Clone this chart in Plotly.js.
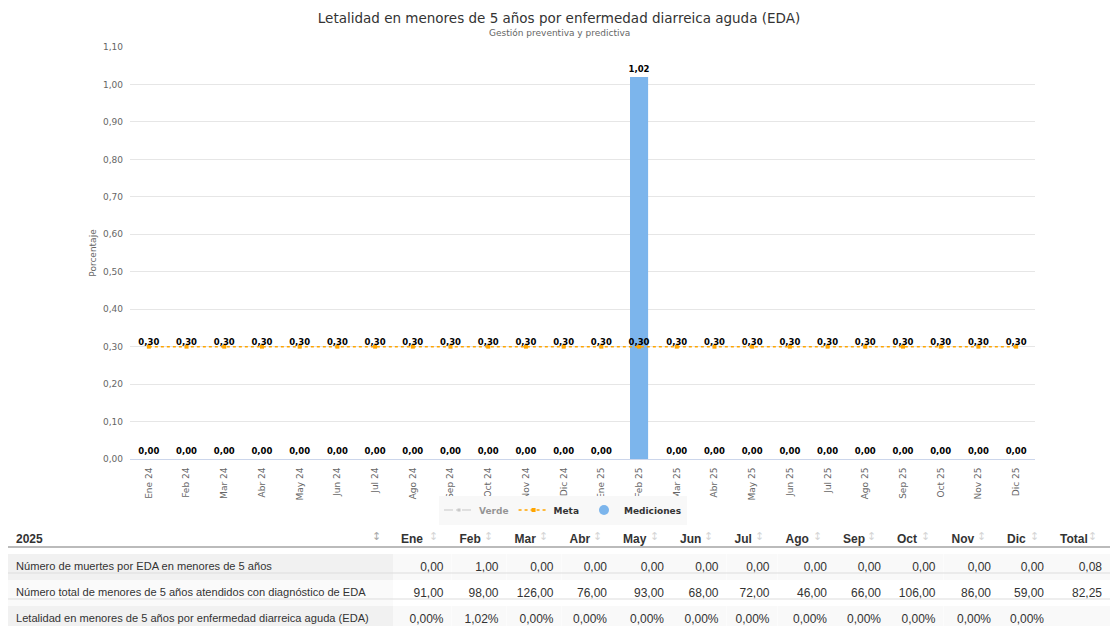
<!DOCTYPE html>
<html>
<head>
<meta charset="utf-8">
<script src="https://cdn.plot.ly/plotly-3.0.1.min.js"></script>
<style>
  html, body { margin: 0; padding: 0; background: #ffffff; }
  #chart { width: 1110px; height: 626px; }
</style>
</head>
<body>
<div id="chart"></div>
<script>
// ---------- DATA ----------
const categories = ['Ene 24','Feb 24','Mar 24','Abr 24','May 24','Jun 24','Jul 24','Ago 24','Sep 24','Oct 24','Nov 24','Dic 24',
                    'Ene 25','Feb 25','Mar 25','Abr 25','May 25','Jun 25','Jul 25','Ago 25','Sep 25','Oct 25','Nov 25','Dic 25'];
const mediciones = [0,0,0,0,0,0,0,0,0,0,0,0, 0,1.02,0,0,0,0,0,0,0,0,0,0];
const meta = [0.30,0.30,0.30,0.30,0.30,0.30,0.30,0.30,0.30,0.30,0.30,0.30,
              0.30,0.30,0.30,0.30,0.30,0.30,0.30,0.30,0.30,0.30,0.30,0.30];
const verde = [0.30,0.30,0.30,0.30,0.30,0.30,0.30,0.30,0.30,0.30,0.30,0.30,
               0.30,0.30,0.30,0.30,0.30,0.30,0.30,0.30,0.30,0.30,0.30,0.30];

const tableYear = '2025';
const tableMonths = ['Ene','Feb','Mar','Abr','May','Jun','Jul','Ago','Sep','Oct','Nov','Dic'];
const rowLabels = ['Número de muertes por EDA en menores de 5 años',
                   'Número total de menores de 5 años atendidos con diagnóstico de EDA',
                   'Letalidad en menores de 5 años por enfermedad diarreica aguda (EDA)'];
const muertes   = [0,1,0,0,0,0,0,0,0,0,0,0];
const atendidos = [91,98,126,76,93,68,72,46,66,106,86,59];
const letalidad = [0,1.02,0,0,0,0,0,0,0,0,0,0];
const totalMuertes = 0.08;
const totalAtendidos = 82.25;
const totalLetalidad = null;

// ---------- HELPERS ----------
const fmt = v => (v === null || v === undefined) ? '' : v.toFixed(2).replace('.', ',');
const fmtPct = v => (v === null || v === undefined) ? '' : fmt(v) + '%';

// ---------- LAYOUT GEOMETRY ----------
const W = 1110, H = 626, L = 8;
const px2x = p => (p - L) / (W - L);
const py2y = p => (H - p) / H;
const chartFont = 'DejaVu Sans, sans-serif';
const tableFont = 'Liberation Sans, Arial, sans-serif';

// ---------- TRACES ----------
const barTrace = {
  type: 'bar', x: categories, y: mediciones, name: 'Mediciones',
  marker: { color: '#7cb5ec' }, width: 0.48,
  texttemplate: '%{y:.2f}', textposition: 'outside', cliponaxis: false,
  constraintext: 'none',
  textfont: { family: chartFont, size: 8.5, color: '#000', weight: 'bold' },
  showlegend: false, legendgroup: 'med', hoverinfo: 'x+y',
  xaxis: 'x', yaxis: 'y'
};
const verdeTrace = {
  type: 'scatter', mode: 'lines+markers', x: categories, y: verde, name: 'Verde',
  line: { color: '#999999', width: 1, dash: 'dashdot' },
  marker: { color: '#999999', size: 3, symbol: 'square' },
  visible: 'legendonly', xaxis: 'x', yaxis: 'y'
};
const metaTrace = {
  type: 'scatter', mode: 'lines+markers', x: categories, y: meta, name: 'Meta',
  line: { color: '#ffa500', width: 1.5, dash: 'dot' },
  marker: { color: '#ffa500', size: 4, symbol: 'square' },
  cliponaxis: false, xaxis: 'x', yaxis: 'y'
};
const metaText = {
  type: 'scatter', mode: 'text', x: categories, y: meta,
  text: meta.map(fmt), textposition: 'top center',
  textfont: { family: chartFont, size: 8.5, color: '#000', weight: 'bold' },
  showlegend: false, hoverinfo: 'skip', cliponaxis: false, xaxis: 'x', yaxis: 'y'
};
const medLegend = {
  type: 'scatter', mode: 'markers', x: [null], y: [null], name: 'Mediciones',
  marker: { color: '#7cb5ec', size: 10, symbol: 'circle' },
  legendgroup: 'med', xaxis: 'x', yaxis: 'y'
};

// table
const headerLabels = [tableYear].concat(tableMonths).concat(['Total']);
const headerVals = headerLabels.map(h => '<b>' + h + '</b>');
const cols = [rowLabels];
tableMonths.forEach((m, i) => cols.push([fmt(muertes[i]), fmt(atendidos[i]), fmtPct(letalidad[i])]));
cols.push([fmt(totalMuertes), fmt(totalAtendidos), fmtPct(totalLetalidad)]);
const firstColFill = ['#f1f1f1', '#fafafa', '#f1f1f1'];
const otherFill = ['#f9f9f9', '#ffffff', '#f9f9f9'];
const fills = cols.map((c, i) => i === 0 ? firstColFill : otherFill);
const colWidths = [385, 58.5, 55, 55, 53.5, 57, 54.5, 51, 57.5, 54, 54.5, 55.5, 53, 58];
const cellSizes = cols.map((c, i) => i === 0 ? 11.1 : 12);

const tableTop = 524, headH = 23, rowH = 26;
const tableTrace = {
  type: 'table',
  domain: { x: [0, 1], y: [0, py2y(tableTop)] },
  columnwidth: colWidths,
  header: {
    values: headerVals, align: 'left', height: headH,
    fill: { color: '#ffffff' }, line: { width: 0, color: '#ffffff' },
    font: { family: tableFont, size: 12, color: '#333333' }
  },
  cells: {
    values: cols, align: ['left'].concat(cols.slice(1).map(() => 'right')), height: rowH,
    fill: { color: fills }, line: { width: 0, color: '#ffffff' },
    font: { family: tableFont, size: cellSizes, color: '#333333' }
  }
};

// sort-arrow decorations in the header
const colRights = [];
colWidths.reduce((acc, w) => { const r = acc + w; colRights.push(r); return r; }, L);
const sortArrows = colRights.map((r, i) => ({
  xref: 'paper', yref: 'paper', x: px2x(r - (i === 0 ? 17 : 18)), y: py2y(tableTop + 12),
  xanchor: 'center', yanchor: 'middle', showarrow: false,
  text: '↕', font: { family: chartFont, size: 11, color: i === 0 ? '#aaaaaa' : '#d6d6d6' }
}));

const lineYs = [tableTop + headH, tableTop + headH + rowH, tableTop + headH + 2 * rowH];
const shapes = lineYs.map((py, i) => ({
  type: 'line', xref: 'paper', yref: 'paper', x0: 0, x1: 1, y0: py2y(py), y1: py2y(py),
  line: { color: i === 0 ? '#bbbbbb' : '#dddddd', width: i === 0 ? 2 : 1 }
}));

const annotations = [
  { xref: 'paper', yref: 'paper', x: 0.5, y: py2y(33), xanchor: 'center', yanchor: 'middle', showarrow: false,
    text: 'Gestión preventiva y predictiva', font: { family: chartFont, size: 9, color: '#666666' } }
].concat(sortArrows);

const layout = {
  width: W, height: H,
  margin: { l: L, r: 0, t: 0, b: 0 },
  paper_bgcolor: '#ffffff', plot_bgcolor: '#ffffff',
  separators: ',.',
  font: { family: chartFont, color: '#333333' },
  title: {
    text: 'Letalidad en menores de 5 años por enfermedad diarreica aguda (EDA)',
    font: { family: chartFont, size: 13.5, color: '#333333' },
    x: 0.5, xref: 'paper', y: 1 - 18 / H, yref: 'container', yanchor: 'middle'
  },
  xaxis: {
    domain: [px2x(130), px2x(1035)],
    type: 'category', tickangle: -90, range: [-0.5, categories.length - 0.5], autorange: false,
    tickfont: { family: chartFont, size: 9, color: '#666666' },
    showline: true, linecolor: '#ccd6eb', linewidth: 1,
    showgrid: false, ticks: '', ticklabelstandoff: 4, fixedrange: true
  },
  yaxis: {
    domain: [py2y(459), py2y(47)],
    range: [0, 1.1], dtick: 0.1, tick0: 0, tickformat: '.2f', autorange: false,
    tickfont: { family: chartFont, size: 9, color: '#666666' },
    gridcolor: '#e6e6e6', gridwidth: 1, zeroline: false, showline: false,
    ticks: '', ticklabelstandoff: 6,
    title: { text: 'Porcentaje', font: { family: chartFont, size: 9, color: '#666666' }, standoff: 4 },
    automargin: false, fixedrange: true
  },
  legend: {
    orientation: 'h', x: px2x(563), xanchor: 'center', y: py2y(510), yanchor: 'middle',
    bgcolor: '#f8f8f8', font: { family: chartFont, size: 9, color: '#333333', weight: 'bold' },
    itemwidth: 30, tracegroupgap: 0, traceorder: 'normal'
  },
  annotations: annotations,
  shapes: shapes,
  showlegend: true
};

Plotly.newPlot('chart', [barTrace, verdeTrace, metaTrace, metaText, medLegend, tableTrace], layout,
  { displayModeBar: false, staticPlot: false });
</script>
</body>
</html>
